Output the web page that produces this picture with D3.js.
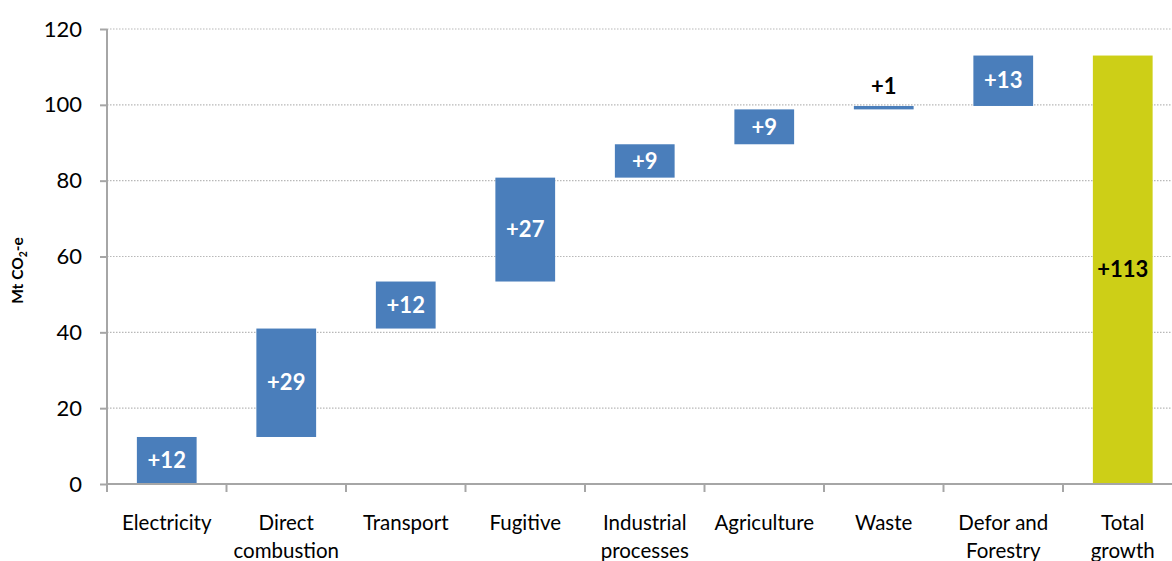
<!DOCTYPE html>
<html>
<head>
<meta charset="utf-8">
<script src="https://cdn.jsdelivr.net/npm/d3@7/dist/d3.min.js"></script>
<style>
  html, body { margin: 0; padding: 0; background: #fff; }
  svg { display: block; font-family: Lato, "Open Sans", sans-serif; }
</style>
</head>
<body>
<svg id="chart" width="1172" height="561"></svg>
<script>
// Sector contributions to emissions growth (Mt CO2-e)
const categories = ["Electricity", "Direct combustion", "Transport", "Fugitive",
  "Industrial processes", "Agriculture", "Waste", "Defor and Forestry", "Total growth"];
const categoryLines = [["Electricity"], ["Direct", "combustion"], ["Transport"], ["Fugitive"],
  ["Industrial", "processes"], ["Agriculture"], ["Waste"], ["Defor and", "Forestry"], ["Total", "growth"]];
const increments = [12.4, 28.6, 12.4, 27.4, 8.8, 9.2, 0.9, 13.3];
const yTicks = [0, 20, 40, 60, 80, 100, 120];

const width = 1172, height = 561;
const margin = { top: 29, left: 107, bottom: 77 };
const bandW = 119.5;

const svg = d3.select("#chart");

// Build waterfall segments from the increments, plus the total column
let running = 0;
const segments = increments.map((v, i) => {
  const s = { cat: categories[i], start: running, end: running + v, value: v, total: false };
  running += v;
  return s;
});
segments.push({ cat: categories[8], start: 0, end: running, value: running, total: true });

const x = d3.scaleBand()
  .domain(categories)
  .range([margin.left, margin.left + bandW * categories.length])
  .paddingInner(0.5)
  .paddingOuter(0.25);

const y = d3.scaleLinear()
  .domain([0, 120])
  .range([height - margin.bottom, margin.top]);

const axisColor = "#a6a6a6";
const xEnd = margin.left + bandW * categories.length;

// Dotted horizontal gridlines
svg.append("g")
  .selectAll("line")
  .data(yTicks.filter(t => t > 0))
  .join("line")
  .attr("x1", margin.left)
  .attr("x2", xEnd)
  .attr("y1", d => y(d))
  .attr("y2", d => y(d))
  .attr("stroke", "#b8b8b8")
  .attr("stroke-width", 1.2)
  .attr("stroke-dasharray", "1.5,1.5");

// Bars
const fmt = d3.format("+.0f");
svg.append("g")
  .selectAll("rect")
  .data(segments)
  .join("rect")
  .attr("x", d => x(d.cat))
  .attr("width", x.bandwidth())
  .attr("y", d => y(d.end))
  .attr("height", d => y(d.start) - y(d.end))
  .attr("fill", d => d.total ? "#cdcf17" : "#4a7ebb");

// Value labels
svg.append("g")
  .selectAll("text")
  .data(segments)
  .join("text")
  .attr("x", d => x(d.cat) + x.bandwidth() / 2)
  .attr("y", d => {
    const h = y(d.start) - y(d.end);
    if (h < 24) return y(d.end) - 20;
    return (y(d.start) + y(d.end)) / 2;
  })
  .attr("dy", "0.35em")
  .attr("text-anchor", "middle")
  .attr("font-weight", "bold")
  .attr("font-size", 22)
  .attr("fill", d => {
    const h = y(d.start) - y(d.end);
    return (d.total || h < 24) ? "#000" : "#fff";
  })
  .text(d => fmt(d.value));

// Y axis
const yAxis = svg.append("g")
  .attr("transform", `translate(${margin.left},0)`)
  .call(d3.axisLeft(y).tickValues(yTicks).tickSize(7).tickPadding(18));
yAxis.select(".domain").attr("stroke", axisColor).attr("stroke-width", 2)
  .attr("d", `M0,${y(120)}V${y(0)}`);
yAxis.selectAll(".tick line").attr("stroke", axisColor).attr("stroke-width", 2);
yAxis.selectAll(".tick text")
  .attr("font-size", 22)
  .attr("fill", "#000")
  .attr("font-family", "Lato, sans-serif");

// X axis
const xAxisG = svg.append("g")
  .attr("transform", `translate(0,${y(0)})`);
xAxisG.append("line")
  .attr("x1", margin.left).attr("x2", xEnd)
  .attr("y1", 0).attr("y2", 0)
  .attr("stroke", axisColor).attr("stroke-width", 2);
xAxisG.selectAll("line.tk")
  .data(d3.range(categories.length + 1))
  .join("line")
  .attr("class", "tk")
  .attr("x1", i => margin.left + i * bandW)
  .attr("x2", i => margin.left + i * bandW)
  .attr("y1", 0).attr("y2", 8)
  .attr("stroke", axisColor).attr("stroke-width", 2);

const catLabels = xAxisG.selectAll("text.cat")
  .data(categories)
  .join("text")
  .attr("class", "cat")
  .attr("x", d => x(d) + x.bandwidth() / 2)
  .attr("y", 46)
  .attr("text-anchor", "middle")
  .attr("font-size", 20.5)
  .attr("fill", "#000");
catLabels.each(function(d, i) {
  d3.select(this).selectAll("tspan")
    .data(categoryLines[i])
    .join("tspan")
    .attr("x", x(d) + x.bandwidth() / 2)
    .attr("dy", (t, j) => j === 0 ? 0 : 28)
    .text(t => t);
});

// Y axis title
const yTitle = svg.append("text")
  .attr("transform", `translate(23,${(y(0) + y(120)) / 2 + 14}) rotate(-90)`)
  .attr("text-anchor", "middle")
  .attr("font-size", 15.5)
  .attr("font-weight", "bold")
  .attr("fill", "#000");
yTitle.append("tspan").text("Mt CO");
yTitle.append("tspan").attr("font-size", 10.5).attr("dy", 4).text("2");
yTitle.append("tspan").attr("dy", -4).text("-e");
</script>
</body>
</html>
